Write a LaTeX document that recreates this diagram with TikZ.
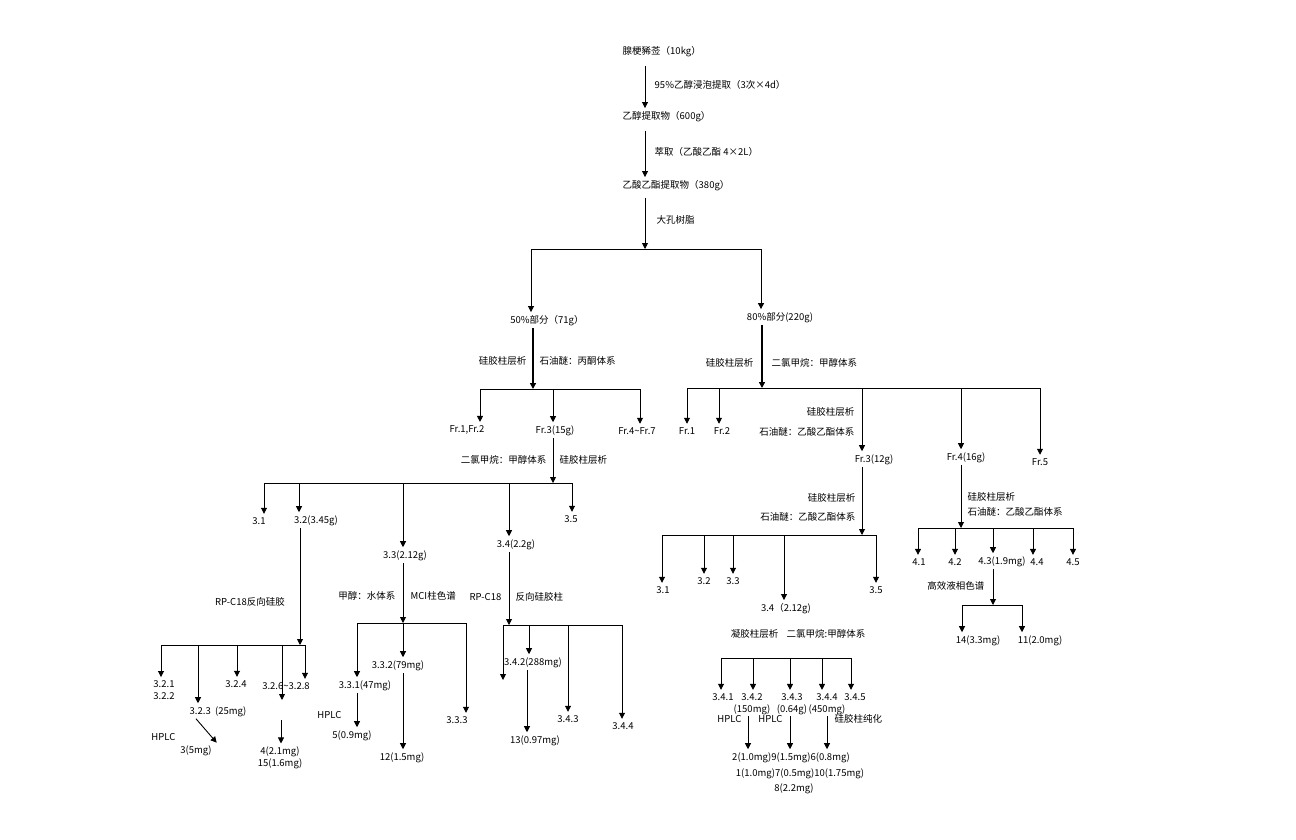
\documentclass[tikz,border=0pt]{standalone}
\usepackage{fontspec}
\setmainfont{Noto Sans CJK SC}
\usetikzlibrary{arrows.meta}
\tikzset{
  lbl/.style={inner sep=1.5pt, font=\fontsize{9.5}{11.5}\selectfont},
  arr/.style={-{Triangle[length=6pt,width=6pt]}, line width=0.9pt, shorten >=2pt},
  trunk/.style={arr, line width=1.4pt},
  bar/.style={line width=0.9pt},
}
% drops from a bar at height #1 to the listed nodes
\newcommand\drops[2]{\foreach \x/\n in {#2} {\path (\x,#1) coordinate (d); \draw[arr] (d) -- (\n.north -| d);}}
\begin{document}
\begin{tikzpicture}[x=1pt, y=-1pt]
\useasboundingbox (0,0) rectangle (1296,840);

% extraction chain
\node[lbl, anchor=west] (raw) at (621,52) {腺梗豨莶（10kg）};
\node[lbl, anchor=west] (eth) at (621,117) {乙醇提取物（600g）};
\node[lbl, anchor=west] (ea)  at (621,186) {乙酸乙酯提取物（380g）};
\node[lbl, anchor=west] (s1) at (653,85)  {95\%乙醇浸泡提取（3次×4d）};
\node[lbl, anchor=west] (s2) at (653,152) {萃取（乙酸乙酯 4×2L）};
\node[lbl, anchor=west] (s3) at (655,220) {大孔树脂};
\coordinate (c0) at (645,0);
\draw[arr, shorten <=7pt] (raw.south -| c0) -- (eth.north -| c0);
\draw[arr, shorten <=7pt] (eth.south -| c0) -- (ea.north -| c0);
\coordinate (mr) at (645,249);
\draw[arr, shorten >=0pt, shorten <=5pt] (ea.south -| mr) -- (mr);
\node[lbl] (p50) at (547,321) {50\%部分（71g）};
\node[lbl] (p80) at (780,318) {80\%部分(220g)};
\draw[bar] (531,249) -- (761,249);
\drops{249}{531/p50,761/p80}

% 50% part
\node[lbl, anchor=east] (l50a) at (528,361) {硅胶柱层析};
\node[lbl, anchor=west] (l50b) at (538,361) {石油醚：丙酮体系};
\coordinate (b50) at (533,389);
\draw[trunk, shorten >=0pt] (p50.south -| b50) -- (b50);
\draw[bar] (480,389) -- (640,389);
\node[lbl] (f12) at (467,430) {Fr.1,Fr.2};
\node[lbl] (f3)  at (555,431) {Fr.3(15g)};
\node[lbl] (f47) at (637,431) {Fr.4\textasciitilde Fr.7};
\drops{389}{480/f12,553/f3,640/f47}

\node[lbl, anchor=east] (l3a) at (548,460) {二氯甲烷：甲醇体系};
\node[lbl, anchor=west] (l3b) at (558,460) {硅胶柱层析};
\coordinate (b3) at (553,483);
\draw[arr, shorten >=0pt] (f3.south -| b3) -- (b3);
\draw[bar] (264,483) -- (572,483);
\node[lbl] (n31) at (259,521) {3.1};
\node[lbl] (n32) at (316,521) {3.2(3.45g)};
\node[lbl] (n33) at (405,556) {3.3(2.12g)};
\node[lbl] (n34) at (516,545) {3.4(2.2g)};
\node[lbl] (n35) at (571,519) {3.5};
\drops{483}{264/n31,299/n32,403/n33,509/n34,572/n35}

% 3.2
\node[lbl] (l32) at (250,602) {RP-C18反向硅胶};
\coordinate (b32) at (300,645);
\draw[arr, shorten >=0pt] (n32.south -| b32) -- (b32);
\draw[bar] (161,645) -- (305,645);
\node[lbl, align=left] (n3212) at (164,690) {3.2.1\\3.2.2};
\node[lbl] (n323) at (218,712) {3.2.3\ \ (25mg)};
\node[lbl] (n324) at (236,684) {3.2.4};
\node[lbl] (n326) at (286,686) {3.2.6\textasciitilde 3.2.8};
\drops{645}{161/n3212,198/n323,237/n324,305/n326}
\coordinate (e32) at (282,645);
\coordinate (e32b) at (282,700);
\draw[arr, shorten >=0pt] (e32) -- (e32b);
\node[lbl, anchor=east] (h323) at (177,737) {HPLC};
\node[lbl] (c3) at (196,751) {3(5mg)};
\draw[arr] (n323.south -| c3) -- (c3.north -| n323);
\node[lbl, align=center] (c415) at (280,758) {4(2.1mg)\\15(1.6mg)};
\coordinate (s4) at (281,720);
\draw[arr] (s4) -- (c415.north -| s4);

% 3.3
\node[lbl, anchor=east] (l33a) at (397,596) {甲醇：水体系};
\node[lbl, anchor=west] (l33b) at (409,596) {MCI柱色谱};
\coordinate (b33) at (403,623);
\draw[arr, shorten >=0pt] (n33.south -| b33) -- (b33);
\draw[bar] (357,623) -- (466,623);
\node[lbl] (n332) at (398,666) {3.3.2(79mg)};
\node[lbl] (n331) at (365,686) {3.3.1(47mg)};
\node[lbl] (n333) at (457,720) {3.3.3};
\drops{623}{357/n331,403/n332,466/n333}
\node[lbl, anchor=east] (h331) at (343,715) {HPLC};
\node[lbl] (c5) at (352,736) {5(0.9mg)};
\coordinate (x331) at (357,0);
\draw[arr] (n331.south -| x331) -- (c5.north -| x331);
\node[lbl] (c12) at (402,758) {12(1.5mg)};
\coordinate (x332) at (403,0);
\draw[arr] (n332.south -| x332) -- (c12.north -| x332);

% 3.4
\node[lbl, anchor=east] (l34a) at (503,597) {RP-C18};
\node[lbl, anchor=west] (l34b) at (514,597) {反向硅胶柱};
\coordinate (b34) at (509,625);
\draw[arr, shorten >=0pt] (n34.south -| b34) -- (b34);
\draw[bar] (503,625) -- (622,625);
\coordinate (e341) at (503,680);
\draw[arr, shorten >=0pt] (503,625) coordinate (s341) -- (e341);
\node[lbl] (n342) at (533,663) {3.4.2(288mg)};
\node[lbl] (n343) at (568,719) {3.4.3};
\node[lbl] (n344) at (623,726) {3.4.4};
\drops{625}{529/n342,568/n343,622/n344}
\node[lbl] (c13) at (535,741) {13(0.97mg)};
\coordinate (x342) at (527,0);
\draw[arr] (n342.south -| x342) -- (c13.north -| x342);

% 80% part
\node[lbl, anchor=east] (l80a) at (755,363) {硅胶柱层析};
\node[lbl, anchor=west] (l80b) at (770,363) {二氯甲烷：甲醇体系};
\coordinate (b80) at (762,388);
\draw[trunk, shorten >=0pt] (p80.south -| b80) -- (b80);
\draw[bar] (687,388) -- (1040,388);
\node[lbl] (g1) at (687,431) {Fr.1};
\node[lbl] (g2) at (722,431) {Fr.2};
\node[lbl] (g3) at (874,460) {Fr.3(12g)};
\node[lbl] (g4) at (966,458) {Fr.4(16g)};
\node[lbl] (g5) at (1040,462) {Fr.5};
\drops{388}{687/g1,719/g2,862/g3,961/g4,1040/g5}
\node[lbl, anchor=east] (lg3a) at (856,412) {硅胶柱层析};
\node[lbl, anchor=east] (lg3b) at (856,432) {石油醚：乙酸乙酯体系};

% Fr.3 (12g)
\node[lbl, anchor=east] (lh3a) at (857,498) {硅胶柱层析};
\node[lbl, anchor=east] (lh3b) at (857,517) {石油醚：乙酸乙酯体系};
\coordinate (bg3) at (862,535);
\draw[arr, shorten >=0pt] (g3.south -| bg3) -- (bg3);
\draw[bar] (662,535) -- (876,535);
\node[lbl] (m31) at (663,590) {3.1};
\node[lbl] (m32) at (704,581) {3.2};
\node[lbl] (m33) at (733,581) {3.3};
\node[lbl] (m34) at (786,609) {3.4（2.12g)};
\node[lbl] (m35) at (876,590) {3.5};
\drops{535}{662/m31,704/m32,733/m33,784/m34,876/m35}
\node[lbl, anchor=east] (lm34a) at (780,634) {凝胶柱层析};
\node[lbl, anchor=west] (lm34b) at (785,634) {二氯甲烷:甲醇体系};
\draw[bar] (721,658) -- (851,658);
\node[lbl] (q1) at (723,697) {3.4.1};
\node[lbl, align=center] (q2) at (752,704) {3.4.2\\(150mg)};
\node[lbl, align=center] (q3) at (792,704) {3.4.3\\(0.64g)};
\node[lbl, align=center] (q4) at (827,704) {3.4.4\\(450mg)};
\node[lbl] (q5) at (855,697) {3.4.5};
\drops{658}{721/q1,753/q2,790/q3,822/q4,851/q5}
\node[lbl] (r1) at (791,758) {2(1.0mg)9(1.5mg)6(0.8mg)};
\node[lbl] (r2) at (800,774) {1(1.0mg)7(0.5mg)10(1.75mg)};
\node[lbl] (r3) at (794,789) {8(2.2mg)};
\node[lbl, anchor=east] (hq2) at (743,719) {HPLC};
\node[lbl, anchor=east] (hq3) at (784,719) {HPLC};
\node[lbl, anchor=west] (hq4) at (833,719) {硅胶柱纯化};
\foreach \x/\n in {748/q2,790/q3,827/q4} {
  \path (\x,0) coordinate (d);
  \draw[arr] (\n.south -| d) -- (r1.north -| d);
}

% Fr.4 (16g)
\node[lbl, anchor=west] (lg4a) at (966,497) {硅胶柱层析};
\node[lbl, anchor=west] (lg4b) at (966,512) {石油醚：乙酸乙酯体系};
\coordinate (bg4) at (961,528);
\draw[arr, shorten >=0pt] (g4.south -| bg4) -- (bg4);
\draw[bar] (918,528) -- (1073,528);
\node[lbl] (k1) at (919,562) {4.1};
\node[lbl] (k2) at (955,562) {4.2};
\node[lbl] (k3) at (1002,562) {4.3(1.9mg)};
\node[lbl] (k4) at (1037,562) {4.4};
\node[lbl] (k5) at (1073,562) {4.5};
\drops{528}{918/k1,955/k2,993/k3,1033/k4,1073/k5}
\node[lbl, anchor=east] (lk3) at (986,586) {高效液相色谱};
\coordinate (bk3) at (993,605);
\draw[arr, shorten >=0pt] (k3.south -| bk3) -- (bk3);
\draw[bar] (962,605) -- (1022,605);
\node[lbl] (c14) at (978,641) {14(3.3mg)};
\node[lbl] (c11) at (1040,641) {11(2.0mg)};
\drops{605}{962/c14,1022/c11}
\end{tikzpicture}
\end{document}
